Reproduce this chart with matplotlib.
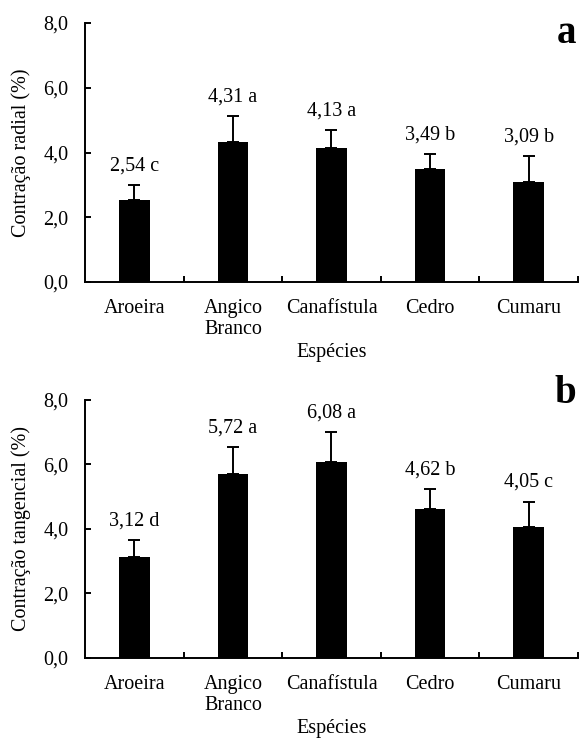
import numpy as np
import matplotlib.pyplot as plt

plt.rcParams['font.family'] = ['Liberation Serif', 'DejaVu Serif']

especies = ['Aroeira', 'Angico\nBranco', 'Canafístula', 'Cedro', 'Cumaru']

radial = [2.54, 4.31, 4.13, 3.49, 3.09]
radial_err = [0.45, 0.82, 0.57, 0.46, 0.80]
radial_letras = ['c', 'a', 'a', 'b', 'b']

tangencial = [3.12, 5.72, 6.08, 4.62, 4.05]
tangencial_err = [0.54, 0.82, 0.92, 0.62, 0.80]
tangencial_letras = ['d', 'a', 'a', 'b', 'c']

W, H = 579, 738
fig = plt.figure(figsize=(W / 100, H / 100), dpi=100)
ax_a = fig.add_axes([0.147, 0.6179, 0.851, 0.3509])
ax_b = fig.add_axes([0.147, 0.1085, 0.851, 0.3495])

fs = 14.5


def painel(ax, vals, errs, letras, ylabel):
    x = np.arange(len(vals))
    ax.bar(x, vals, width=0.31, color='black', zorder=2)
    ax.errorbar(x, vals, yerr=[np.zeros(len(vals)), errs], fmt='none',
                ecolor='black', elinewidth=1.4, capsize=4.5, capthick=1.4, zorder=3)
    for xi, v, e, l in zip(x, vals, errs, letras):
        txt = f'{v:.2f}'.replace('.', ',') + ' ' + l
        ax.annotate(txt, (xi, v + e), xytext=(0, 10.5), textcoords='offset points',
                    ha='center', va='baseline', fontsize=fs)
    ax.set_xlim(-0.5, len(vals) - 0.5)
    ax.set_ylim(0, 8)
    ax.set_yticks([0, 2, 4, 6, 8])
    ax.set_yticklabels([f'{t:.1f}'.replace('.', ',') for t in [0, 2, 4, 6, 8]], fontsize=fs)
    ax.set_xticks(x)
    ax.set_xticklabels(especies, fontsize=fs, linespacing=1.15)
    ax.tick_params(axis='x', which='major', length=0, pad=12)
    ax.set_xticks(np.arange(len(vals)) + 0.5, minor=True)
    ax.tick_params(axis='x', which='minor', direction='in', length=4.5, width=1.4)
    ax.tick_params(axis='y', direction='in', length=4.5, width=1.4, pad=12)
    for s in ['top', 'right']:
        ax.spines[s].set_visible(False)
    for s in ['left', 'bottom']:
        ax.spines[s].set_linewidth(1.4)
    ax.set_ylabel(ylabel, fontsize=fs, labelpad=9)
    ax.set_xlabel('Espécies', fontsize=fs, labelpad=3)


painel(ax_a, radial, radial_err, radial_letras, 'Contração radial (%)')
painel(ax_b, tangencial, tangencial_err, tangencial_letras, 'Contração tangencial (%)')

# letras dos paineis
fig.text(566 / W, 1 - 43 / H, 'a', fontsize=28, fontweight='bold',
         ha='center', va='baseline')
fig.text(576 / W, 1 - 403 / H, 'b', fontsize=28, fontweight='bold',
         ha='right', va='baseline')

fig.savefig('out.png', dpi=100)
